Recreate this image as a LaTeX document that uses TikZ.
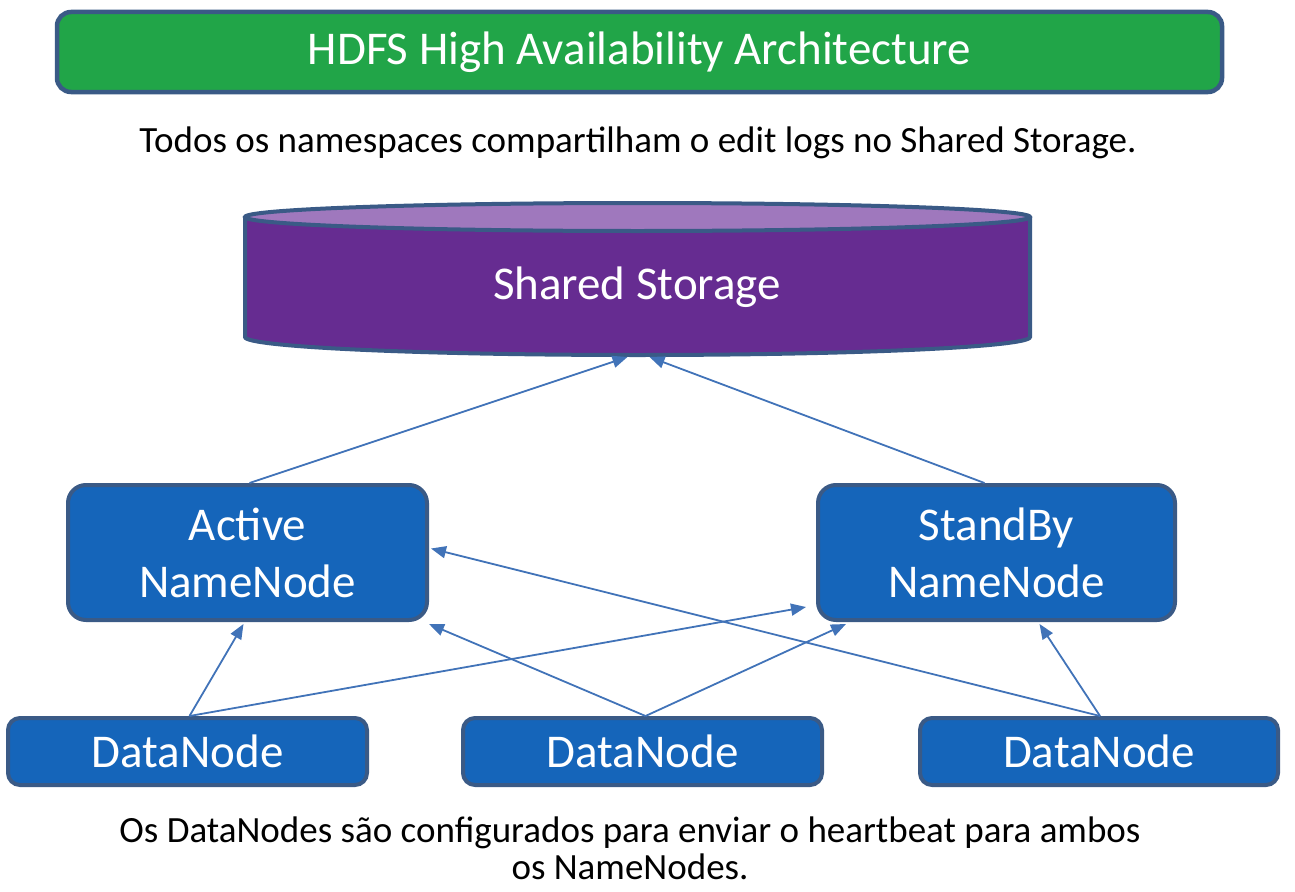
\documentclass[tikz,border=0pt]{standalone}
\usepackage{fontspec}
\setmainfont{Carlito}
\usetikzlibrary{arrows.meta,calc}
\definecolor{titlegreen}{HTML}{21A548}
\definecolor{edgecol}{HTML}{3A5A86}
\definecolor{purp}{HTML}{662C91}
\definecolor{purptop}{HTML}{9F78BD}
\definecolor{boxblue}{HTML}{1565BA}
\definecolor{arrowcol}{HTML}{4173B8}
\tikzset{
  box/.style={draw=edgecol, line width=4pt, fill=boxblue, rounded corners=18pt,
    text=white, font=\fontsize{47}{57}\selectfont, align=center, inner sep=0pt},
  dnbox/.style={box, rounded corners=12pt},
  conn/.style={draw=arrowcol, line width=1.8pt, -{Triangle[length=15pt,width=12pt]}},
  caption/.style={font=\fontsize{37}{37}\selectfont, align=center, inner sep=0pt},
}
\begin{document}
\begin{tikzpicture}[x=1pt,y=-1pt]
\useasboundingbox (0,0) rectangle (1295,891);
% title
\node[draw=edgecol, line width=4.5pt, fill=titlegreen, rounded corners=14pt,
  minimum width=1165pt, minimum height=80pt, text=white,
  font=\fontsize{47}{57}\selectfont, inner sep=0pt] (title) at (639.5,52)
  {HDFS High Availability Architecture};
\node[caption] (sub) at (638,143) {Todos os namespaces compartilham o edit logs no Shared Storage.};
% storage cylinder
\fill[purp] (245,217) -- (245,337) arc[start angle=180, end angle=0, x radius=392.5, y radius=18]
  -- (1030,217) -- cycle;
\draw[edgecol, line width=4pt] (245,217) -- (245,337) arc[start angle=180, end angle=0, x radius=392.5, y radius=18]
  -- (1030,217);
\draw[edgecol, line width=4pt, fill=purptop] (637.5,217) ellipse[x radius=392.5, y radius=14];
\node[text=white, font=\fontsize{47}{57}\selectfont, inner sep=0pt] (storage) at (637,287) {Shared Storage};
\coordinate (sbot) at (638.5,357);
% name nodes
\node[box, minimum width=359pt, minimum height=135pt] (active) at (247.5,552.5) {Active\\NameNode};
\node[box, minimum width=357pt, minimum height=135pt] (standby) at (996.5,552.5) {StandBy\\NameNode};
% data nodes
\node[dnbox, minimum width=359pt, minimum height=67pt] (dn1) at (187.5,751.5) {DataNode};
\node[dnbox, minimum width=359pt, minimum height=67pt] (dn2) at (642.5,751.5) {DataNode};
\node[dnbox, minimum width=358pt, minimum height=67pt] (dn3) at (1099,751.5) {DataNode};
% connectors
\draw[conn] ($(active.north)+(2,0)$) -- ($(sbot)+(-11,0)$);
\draw[conn] ($(standby.north)+(-12,0)$) -- ($(sbot)+(11,0)$);
\draw[conn] ($(dn1.north)+(2,0)$) -- ($(active.south)+(-4,2)$);
\draw[conn] ($(dn1.north)+(2,0)$) -- ($(standby.south west)+(-10,-15)$);
\draw[conn] ($(dn2.north)+(3,0)$) -- ($(active.south east)+(0,2)$);
\draw[conn] ($(dn2.north)+(3,0)$) -- ($(standby.south west)+(30,2)$);
\draw[conn] ($(dn3.north)+(1,0)$) -- ($(active.east)+(2,-4)$);
\draw[conn] ($(dn3.north)+(1,0)$) -- ($(standby.south)+(43,2)$);
% bottom caption
\node[caption] (foot) at (630,848) {Os DataNodes são configurados para enviar o heartbeat para ambos\\os NameNodes.};
\end{tikzpicture}
\end{document}
